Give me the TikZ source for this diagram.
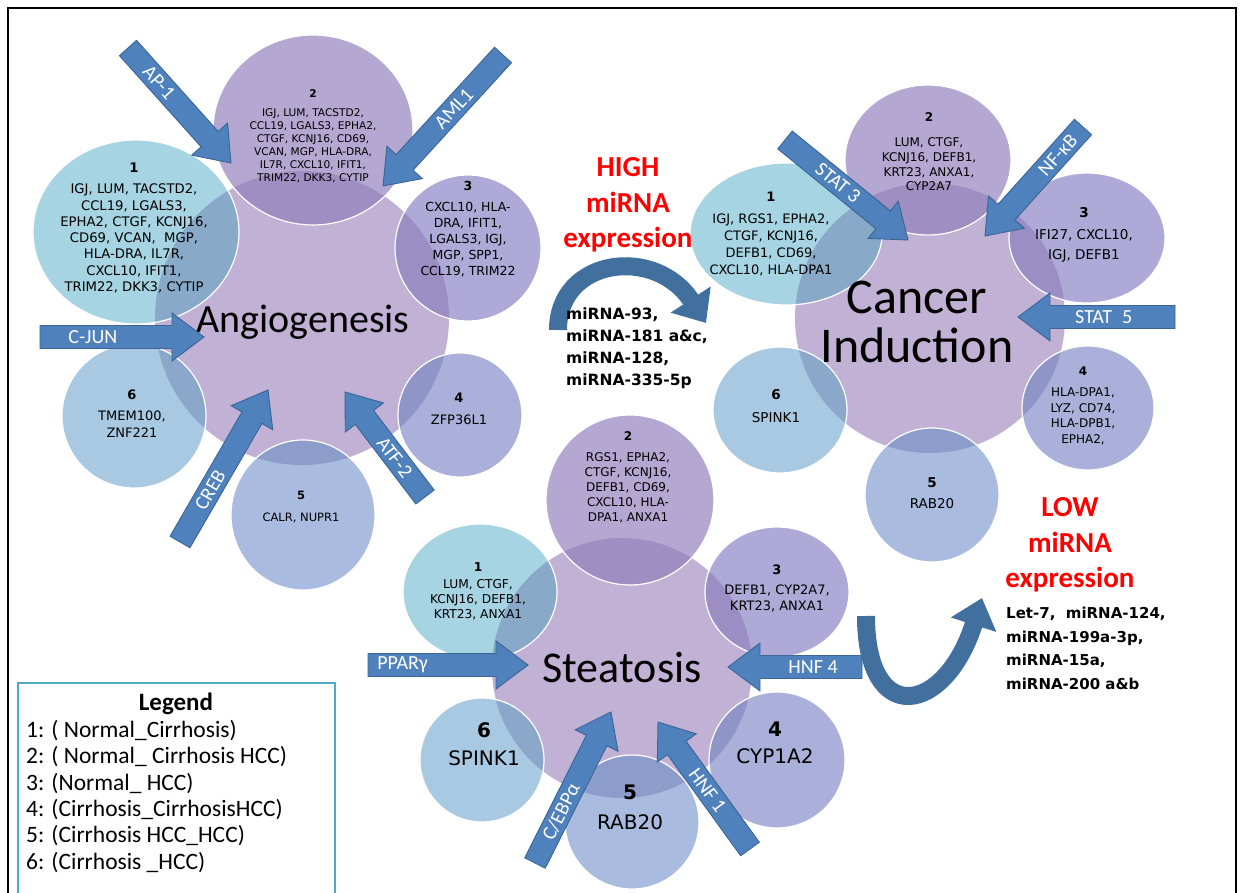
\documentclass[tikz,border=0pt]{standalone}
\usepackage{fontspec}
\setmainfont{Carlito}
\newfontfamily\genefont{DejaVu Sans}
\usetikzlibrary{calc,arrows.meta}

\definecolor{bigfill}{HTML}{C1B1D5}
\definecolor{satA}{HTML}{A6D4E2}
\definecolor{satB}{HTML}{B4A8D2}
\definecolor{satC}{HTML}{AEA9D7}
\definecolor{satD}{HTML}{AAB0D9}
\definecolor{satE}{HTML}{A9BBDE}
\definecolor{satF}{HTML}{A8C9E1}
\definecolor{ovA}{HTML}{89A9C9}
\definecolor{ovB}{HTML}{9E8EC2}
\definecolor{ovC}{HTML}{9A8EC5}
\definecolor{ovD}{HTML}{9095C8}
\definecolor{ovE}{HTML}{8C9DCB}
\definecolor{ovF}{HTML}{8BA8CB}
\definecolor{arrowfill}{HTML}{4F81BD}
\definecolor{arrowline}{HTML}{3A6596}
\definecolor{curveblue}{HTML}{41709F}
\definecolor{legendline}{HTML}{4BACC6}
\definecolor{alert}{HTML}{FF0000}

% satellite circle: centre, x radius, y radius, fill, overlap fill, clip path of the hub
\newcommand\satellite[6]{%
  \fill[#4] (#1) ellipse[x radius=#2, y radius=#3];
  \begin{scope}
    \clip #6;
    \fill[#5] (#1) ellipse[x radius=#2, y radius=#3];
  \end{scope}
  \draw[white, line width=1.2pt] (#1) ellipse[x radius=#2, y radius=#3];
}

% block arrow from tail coordinate #2 to tip coordinate #3, label #4 at position #1 of the shaft
\newcommand\blockarrow[4][0.4]{%
  \coordinate (ba-base) at ($(#3)!32pt!(#2)$);
  \draw[blockbody] ($(#2)!11.5pt!90:(#3)$) -- ($(ba-base)!11.5pt!90:(#3)$)
    -- ($(ba-base)!24pt!90:(#3)$) -- (#3) -- ($(ba-base)!24pt!-90:(#3)$)
    -- ($(ba-base)!11.5pt!-90:(#3)$) -- ($(#2)!11.5pt!-90:(#3)$) -- cycle;
  \path (#2) -- (ba-base) node[pos=#1, sloped, arrowlabel] (#2-label) {#4};
}

\begin{document}
\begin{tikzpicture}[x=1pt, y=-1pt,
  genes/.style 2 args={font=\genefont\fontsize{#1}{#2}\selectfont, align=center, inner sep=0pt},
  hubtext/.style 2 args={font=\fontsize{#1}{#2}\selectfont, align=center, inner sep=0pt},
  blockbody/.style={fill=arrowfill, draw=arrowline, line width=0.9pt, line join=miter},
  arrowlabel/.style={text=white, font=\fontsize{20}{20}\selectfont, inner sep=0pt},
  curvearrow/.style={draw=curveblue, line width=18pt, -{Triangle[width=46pt,length=28pt]}},
  alerttext/.style={text=alert, font=\bfseries\fontsize{29}{35.5}\selectfont, align=center, inner sep=0pt},
  mirlist/.style 2 args={font=\genefont\bfseries\fontsize{#1}{#2}\selectfont, align=left, inner sep=0pt, anchor=north west},
]
\useasboundingbox (0,0) rectangle (1243,893);
\clip (0,0) rectangle (1243,893);
\fill[white] (0,0) rectangle (1243,893);
\draw[line width=1.5pt] (8,8) rectangle (1236,910);

% ---------------- Angiogenesis ----------------
\coordinate (ang) at (302,318);
\coordinate (ang1) at (136,232);
\coordinate (ang2) at (313,130);
\coordinate (ang3) at (468,248);
\coordinate (ang4) at (460,415);
\coordinate (ang5) at (303,515);
\coordinate (ang6) at (134,416);
\fill[bigfill] (ang) circle[radius=147];
\satellite{ang1}{103}{92}{satA}{ovA}{(ang) circle[radius=147]}
\satellite{ang2}{100}{95}{satB}{ovB}{(ang) circle[radius=147]}
\satellite{ang3}{73}{73}{satC}{ovC}{(ang) circle[radius=147]}
\satellite{ang4}{62}{62}{satD}{ovD}{(ang) circle[radius=147]}
\satellite{ang5}{72}{75}{satE}{ovE}{(ang) circle[radius=147]}
\satellite{ang6}{72}{72}{satF}{ovF}{(ang) circle[radius=147]}
\node[hubtext={40}{40}] (angt) at (303,322) {Angiogenesis};
\node[genes={13.2}{16.3}] (ang1t) at (134,228) {\textbf{1}\\[5pt]IGJ, LUM, TACSTD2,\\CCL19, LGALS3,\\EPHA2, CTGF, KCNJ16,\\CD69, VCAN,\ \ MGP,\\HLA-DRA, IL7R,\\CXCL10, IFIT1,\\TRIM22, DKK3, CYTIP};
\node[genes={10.6}{13}] (ang2t) at (313,136) {\textbf{2}\\[6pt]IGJ, LUM, TACSTD2,\\CCL19, LGALS3, EPHA2,\\CTGF, KCNJ16, CD69,\\VCAN, MGP, HLA-DRA,\\IL7R, CXCL10, IFIT1,\\TRIM22, DKK3, CYTIP};
\node[genes={12.5}{16}] (ang3t) at (468,229) {\textbf{3}\\[5pt]CXCL10, HLA-\\DRA, IFIT1,\\LGALS3, IGJ,\\MGP, SPP1,\\CCL19, TRIM22};
\node[genes={13}{22}] (ang4t) at (459,409) {\textbf{4}\\ZFP36L1};
\node[genes={11.5}{22}] (ang5t) at (301,507) {\textbf{5}\\CALR, NUPR1};
\node[genes={13}{17}] (ang6t) at (132,414) {\textbf{6}\\[4pt]TMEM100,\\ZNF221};

\coordinate (ap1s) at (128,48);    \coordinate (ap1e) at (231,163);
\coordinate (aml1s) at (503,55);   \coordinate (aml1e) at (383,186);
\coordinate (cjuns) at (40,337);   \coordinate (cjune) at (204,337);
\coordinate (crebs) at (180,542);  \coordinate (crebe) at (268,390);
\coordinate (atf2s) at (425,497);  \coordinate (atf2e) at (345,392);
\blockarrow[0.38]{ap1s}{ap1e}{AP-1}
\blockarrow[0.5]{aml1s}{aml1e}{AML1}
\blockarrow[0.4]{cjuns}{cjune}{C-JUN}
\blockarrow[0.42]{crebs}{crebe}{CREB}
\blockarrow[0.5]{atf2s}{atf2e}{ATF-2}

% ---------------- Cancer induction ----------------
\coordinate (can) at (930,318);
\coordinate (can1) at (786,234);
\coordinate (can2) at (928,160);
\coordinate (can3) at (1087,238);
\coordinate (can4) at (1088,408);
\coordinate (can5) at (932,495);
\coordinate (can6) at (780,410);
\fill[bigfill] (can) circle[radius=135];
\satellite{can1}{96}{71}{satA}{ovA}{(can) circle[radius=135]}
\satellite{can2}{83}{75}{satB}{ovB}{(can) circle[radius=135]}
\satellite{can3}{78}{65}{satC}{ovC}{(can) circle[radius=135]}
\satellite{can4}{66}{62}{satD}{ovD}{(can) circle[radius=135]}
\satellite{can5}{67}{67}{satE}{ovE}{(can) circle[radius=135]}
\satellite{can6}{67}{63}{satF}{ovF}{(can) circle[radius=135]}
\node[hubtext={50}{49}] (cant) at (917,322) {Cancer\\Induction};
\node[genes={13}{17}] (can1t) at (771,234) {\textbf{1}\\[5pt]IGJ, RGS1, EPHA2,\\CTGF, KCNJ16,\\DEFB1, CD69,\\CXCL10, HLA-DPA1};
\node[genes={12}{14.7}] (can2t) at (929,152) {\textbf{2}\\[10pt]LUM, CTGF,\\KCNJ16, DEFB1,\\KRT23, ANXA1,\\CYP2A7};
\node[genes={13.5}{20}] (can3t) at (1084,235) {\textbf{3}\\[2pt]IFI27, CXCL10,\\IGJ, DEFB1};
\node[genes={12}{15.7}] (can4t) at (1083,406) {\textbf{4}\\[5pt]HLA-DPA1,\\LYZ, CD74,\\HLA-DPB1,\\EPHA2,};
\node[genes={13.5}{21}] (can5t) at (932,493) {\textbf{5}\\RAB20};
\node[genes={13.5}{23}] (can6t) at (776,406) {\textbf{6}\\SPINK1};

\coordinate (stat3s) at (785,140);  \coordinate (stat3e) at (908,240);
\coordinate (nfkbs) at (1083,127);  \coordinate (nfkbe) at (985,236);
\coordinate (stat5s) at (1175,317); \coordinate (stat5e) at (1018,317);
\blockarrow[0.54]{stat3s}{stat3e}{STAT 3}
\blockarrow[0.33]{nfkbs}{nfkbe}{NF-κB}
\blockarrow[0.57]{stat5s}{stat5e}{STAT\enspace 5}

% ---------------- Steatosis ----------------
\coordinate (ste) at (622,668);
\coordinate (ste1) at (480,592);
\coordinate (ste2) at (630,500);
\coordinate (ste3) at (777,592);
\coordinate (ste4) at (777,760);
\coordinate (ste5) at (632,822);
\coordinate (ste6) at (482,760);
\fill[bigfill] (ste) circle[radius=130];
\satellite{ste1}{77}{68}{satA}{ovA}{(ste) circle[radius=130]}
\satellite{ste2}{84}{85}{satB}{ovB}{(ste) circle[radius=130]}
\satellite{ste3}{72}{65}{satC}{ovC}{(ste) circle[radius=130]}
\satellite{ste4}{68}{68}{satD}{ovD}{(ste) circle[radius=130]}
\satellite{ste5}{67}{67}{satE}{ovE}{(ste) circle[radius=130]}
\satellite{ste6}{62}{62}{satF}{ovF}{(ste) circle[radius=130]}
\node[hubtext={44}{44}] (stet) at (622,668) {Steatosis};
\node[genes={12.2}{15}] (ste1t) at (478,591) {\textbf{1}\\[2pt]LUM, CTGF,\\KCNJ16, DEFB1,\\KRT23, ANXA1};
\node[genes={12}{15}] (ste2t) at (628,477) {\textbf{2}\\[6pt]RGS1, EPHA2,\\CTGF, KCNJ16,\\DEFB1, CD69,\\CXCL10, HLA-\\DPA1, ANXA1};
\node[genes={13}{16}] (ste3t) at (777,588) {\textbf{3}\\[4pt]DEFB1, CYP2A7,\\KRT23, ANXA1};
\node[genes={20}{27}] (ste4t) at (775,743) {\textbf{4}\\CYP1A2};
\node[genes={20}{30}] (ste5t) at (630,807) {\textbf{5}\\RAB20};
\node[genes={20}{28}] (ste6t) at (484,744) {\textbf{6}\\SPINK1};

\coordinate (ppars) at (368,665);  \coordinate (ppare) at (528,665);
\coordinate (hnf4s) at (862,667);  \coordinate (hnf4e) at (728,667);
\coordinate (cebps) at (535,863);  \coordinate (cebpe) at (611,712);
\coordinate (hnf1s) at (750,849);  \coordinate (hnf1e) at (658,722);
\blockarrow[0.27]{ppars}{ppare}{PPARγ}
\blockarrow[0.48]{hnf4s}{hnf4e}{HNF 4}
\blockarrow[0.42]{cebps}{cebpe}{C/EBPα}
\blockarrow[0.58]{hnf1s}{hnf1e}{HNF 1}

% ---------------- miRNA expression ----------------
\node[alerttext] (high) at (628,205) {HIGH\\miRNA\\expression};
\coordinate (hics) at (558,330);
\coordinate (hice) at (706,323);
\draw[curvearrow] (hics) .. controls (558,258) and (655,245) .. (hice);
\node[mirlist={15.5}{22}] (highlist) at (566,308) {miRNA-93,\\miRNA-181 a\&c,\\miRNA-128,\\miRNA-335-5p};

\node[alerttext] (low) at (1070,545) {LOW\\miRNA\\expression};
\coordinate (locs) at (866,616);
\coordinate (loce) at (982,598);
\draw[curvearrow] (locs) .. controls (866,728) and (945,715) .. (loce);
\node[mirlist={15}{23.5}] (lowlist) at (1006,607) {Let-7,\ \ miRNA-124,\\miRNA-199a-3p,\\miRNA-15a,\\miRNA-200 a\&b};

% ---------------- Legend ----------------
\draw[legendline, line width=1.5pt] (18,683) rectangle (335,910);
\node[font=\bfseries\fontsize{25}{25}\selectfont, inner sep=0pt] (legt) at (176,704) {Legend};
\node[font=\fontsize{23.5}{26.4}\selectfont, align=left, anchor=north west, inner sep=0pt] (legitems) at (26,720) {1: ( Normal\_Cirrhosis)\\2: ( Normal\_ Cirrhosis HCC)\\3: (Normal\_ HCC)\\4: (Cirrhosis\_CirrhosisHCC)\\5: (Cirrhosis HCC\_HCC)\\6: (Cirrhosis \_HCC)};
\end{tikzpicture}
\end{document}
